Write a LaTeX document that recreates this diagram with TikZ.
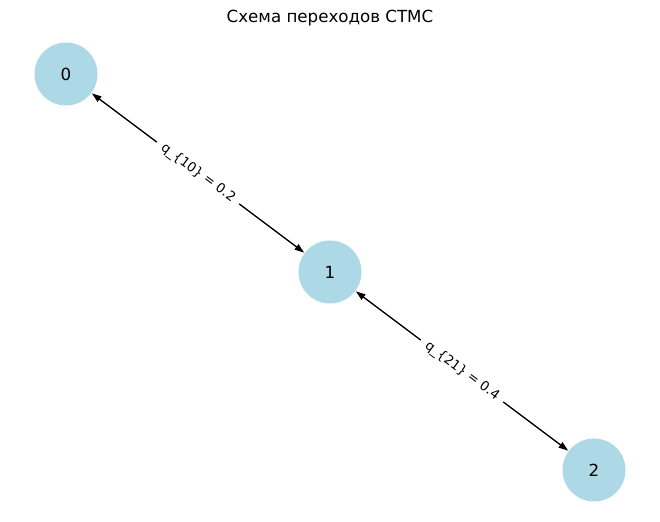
\documentclass[tikz,border=0pt]{standalone}
\usepackage{fontspec}
\setmainfont{DejaVu Sans}
\usetikzlibrary{arrows.meta}
\definecolor{nodeblue}{HTML}{ADD8E6}
\begin{document}
\begin{tikzpicture}[x=0.72pt,y=0.72pt,
  state/.style={circle,fill=nodeblue,minimum size=63*0.72pt,inner sep=0pt,outer sep=0pt,font=\fontsize{12}{14}\selectfont},
  edge/.style={line width=1pt,{Triangle[length=7pt,width=4.6pt]}-{Triangle[length=7pt,width=4.6pt]},shorten <=0.5pt,shorten >=0.5pt},
  elabel/.style={fill=white,inner xsep=5pt,inner ysep=2pt,font=\fontsize{9.5}{12}\selectfont,rotate=-36.87,midway}
]
\useasboundingbox (0,0) rectangle (660,522);
\node[font=\fontsize{12}{14}\selectfont] (title) at (330,504) {Схема переходов CTMC};
\node[state] (n0) at (66,448) {0};
\node[state] (n1) at (330,250) {1};
\node[state] (n2) at (594,52) {2};
\draw[edge] (n0) -- (n1) node[elabel] (l10) {q\_\{10\} = 0.2};
\draw[edge] (n1) -- (n2) node[elabel] (l21) {q\_\{21\} = 0.4};
\end{tikzpicture}
\end{document}
